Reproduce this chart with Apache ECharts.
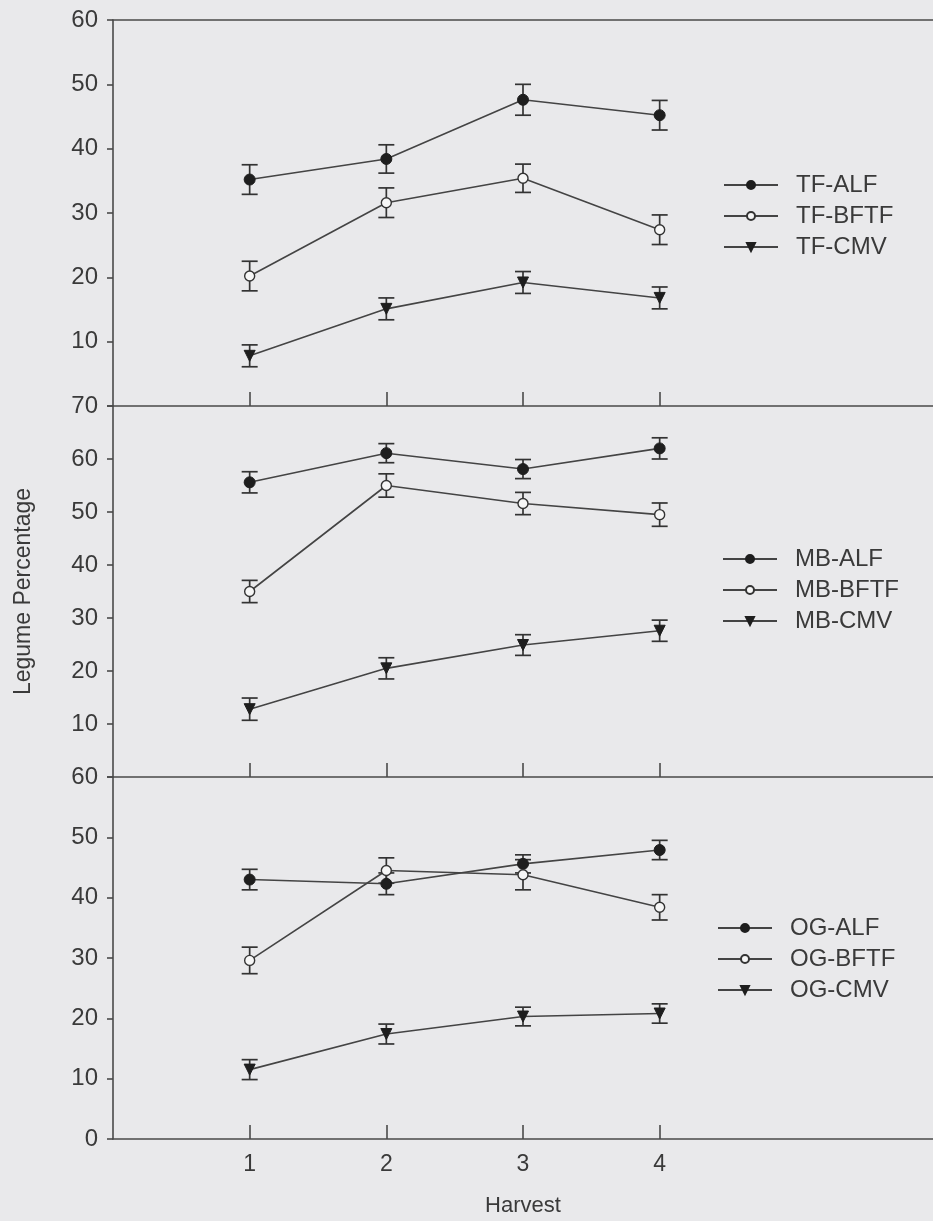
<!DOCTYPE html>
<html>
<head>
<meta charset="utf-8">
<script src="https://cdn.jsdelivr.net/npm/echarts@6/dist/echarts.min.js"></script>
<style>
html,body{margin:0;padding:0;background:#e9e9eb;}
#chart{width:933px;height:1221px;}
</style>
</head>
<body>
<div id="chart"></div>
<script>
// ---- data ----
const harvests = [1, 2, 3, 4];
const harvestTicks = [1, 2, 3, 4];

const tfNames = ['TF-ALF', 'TF-BFTF', 'TF-CMV'];
const tfAlf = [35.2, 38.4, 47.6, 45.2];
const tfAlfErr = [2.3, 2.2, 2.4, 2.3];
const tfBftf = [20.2, 31.6, 35.4, 27.4];
const tfBftfErr = [2.3, 2.3, 2.2, 2.3];
const tfCmv = [7.8, 15.1, 19.2, 16.8];
const tfCmvErr = [1.7, 1.7, 1.7, 1.7];

const mbNames = ['MB-ALF', 'MB-BFTF', 'MB-CMV'];
const mbAlf = [55.6, 61.1, 58.1, 62.0];
const mbAlfErr = [2.0, 1.8, 1.8, 2.0];
const mbBftf = [35.0, 55.0, 51.6, 49.5];
const mbBftfErr = [2.1, 2.2, 2.1, 2.2];
const mbCmv = [12.8, 20.5, 24.9, 27.6];
const mbCmvErr = [2.1, 2.0, 1.95, 2.0];

const ogNames = ['OG-ALF', 'OG-BFTF', 'OG-CMV'];
const ogAlf = [43.0, 42.3, 45.6, 47.9];
const ogAlfErr = [1.7, 1.8, 1.5, 1.6];
const ogBftf = [29.6, 44.5, 43.8, 38.4];
const ogBftfErr = [2.2, 2.1, 2.5, 2.1];
const ogCmv = [11.5, 17.4, 20.3, 20.8];
const ogCmvErr = [1.65, 1.65, 1.55, 1.6];

const yMax = [60, 70, 60];
const yTickStep = 10;

// ---- styling ----
const INK = '#333333';
const AX = '#4a4a4a';
const TXT = '#3a3a3a';
const BG = '#e9e9eb';
const FONT = 'Liberation Sans, Arial, sans-serif';

const panels = [
  {names: tfNames, vals: [tfAlf, tfBftf, tfCmv], errs: [tfAlfErr, tfBftfErr, tfCmvErr]},
  {names: mbNames, vals: [mbAlf, mbBftf, mbCmv], errs: [mbAlfErr, mbBftfErr, mbCmvErr]},
  {names: ogNames, vals: [ogAlf, ogBftf, ogCmv], errs: [ogAlfErr, ogBftfErr, ogCmvErr]}
];

const grids = [
  {left: 113, right: 0, top: 20, height: 386},
  {left: 113, right: 0, top: 406, height: 371},
  {left: 113, right: 0, top: 777, height: 362}
];

const markerStyles = [
  {symbol: 'circle', symbolSize: 11, symbolRotate: 0, itemStyle: {color: '#1e1e1e', borderColor: '#1e1e1e', borderWidth: 1}},
  {symbol: 'circle', symbolSize: 10, symbolRotate: 0, itemStyle: {color: '#f6f6f6', borderColor: '#333', borderWidth: 1.4}},
  {symbol: 'triangle', symbolSize: 11, symbolRotate: 180, itemStyle: {color: '#1e1e1e', borderColor: '#1e1e1e', borderWidth: 1}}
];

function renderErr(params, api) {
  const x = api.value(0), lo = api.value(1), hi = api.value(2);
  const a = api.coord([x, lo]);
  const b = api.coord([x, hi]);
  const hw = 8;
  const st = {stroke: INK, lineWidth: 1.7};
  return {
    type: 'group',
    children: [
      {type: 'line', shape: {x1: a[0], y1: a[1], x2: b[0], y2: b[1]}, style: st},
      {type: 'line', shape: {x1: a[0] - hw, y1: a[1], x2: a[0] + hw, y2: a[1]}, style: st},
      {type: 'line', shape: {x1: b[0] - hw, y1: b[1], x2: b[0] + hw, y2: b[1]}, style: st}
    ]
  };
}

const xAxes = [], yAxes = [], series = [], legends = [];
const legendTops = [168, 542, 911];
const legendLefts = [718, 717, 712];

panels.forEach((p, i) => {
  const last = i === 2;
  xAxes.push({
    type: 'value', gridIndex: i, min: 0, max: 6, interval: 1,
    axisLine: {show: true, lineStyle: {color: AX, width: 1.6}},
    axisTick: {show: true, inside: true, length: 14, customValues: harvestTicks, lineStyle: {color: AX, width: 1.6}},
    axisLabel: {show: last, customValues: harvestTicks, margin: 14, color: TXT, fontSize: 23, fontFamily: FONT},
    splitLine: {show: false},
    name: last ? 'Harvest' : '', nameLocation: 'middle', nameGap: 56,
    nameTextStyle: {color: TXT, fontSize: 22, fontFamily: FONT}
  });
  yAxes.push({
    type: 'value', gridIndex: i, min: 0, max: yMax[i], interval: yTickStep,
    axisLine: {show: true, lineStyle: {color: AX, width: 1.6}},
    axisTick: {show: true, length: 6, lineStyle: {color: AX, width: 1.6}},
    axisLabel: {
      margin: 15, color: TXT, fontSize: 24, fontFamily: FONT,
      formatter: (v) => (v === 0 && !last) ? '' : String(v)
    },
    splitLine: {show: false},
    name: i === 1 ? 'Legume Percentage' : '', nameLocation: 'middle', nameGap: 78,
    nameTextStyle: {color: TXT, fontSize: 23, fontFamily: FONT}
  });
  p.names.forEach((nm, k) => {
    const ms = markerStyles[k];
    series.push({
      type: 'custom', name: nm + ' err', xAxisIndex: i, yAxisIndex: i,
      renderItem: renderErr, encode: {x: 0, y: [1, 2]}, z: 2,
      data: harvests.map((h, j) => [h, p.vals[k][j] - p.errs[k][j], p.vals[k][j] + p.errs[k][j]])
    });
    series.push({
      type: 'line', name: nm, xAxisIndex: i, yAxisIndex: i, z: 3,
      data: harvests.map((h, j) => [h, p.vals[k][j]]),
      symbol: ms.symbol, symbolSize: ms.symbolSize, symbolRotate: ms.symbolRotate,
      showAllSymbol: true,
      lineStyle: {color: '#444', width: 1.6},
      itemStyle: ms.itemStyle,
      emphasis: {disabled: true},
      animation: false
    });
  });
  legends.push({
    data: p.names, orient: 'vertical', left: legendLefts[i], top: legendTops[i],
    itemWidth: 54, itemHeight: 10, itemGap: 7, selectedMode: false,
    textStyle: {color: TXT, fontSize: 24, fontFamily: FONT, lineHeight: 23, padding: [0, 0, 0, 13]}
  });
});

// top border of the first panel
xAxes.push({
  type: 'value', gridIndex: 0, min: 0, max: 6, position: 'top',
  axisLine: {show: true, onZero: false, lineStyle: {color: AX, width: 1.6}},
  axisTick: {show: false}, axisLabel: {show: false}, splitLine: {show: false}
});

const chart = echarts.init(document.getElementById('chart'), null, {renderer: 'canvas'});
chart.setOption({
  backgroundColor: BG,
  animation: false,
  grid: grids,
  xAxis: xAxes,
  yAxis: yAxes,
  legend: legends,
  series: series
});
</script>
</body>
</html>
